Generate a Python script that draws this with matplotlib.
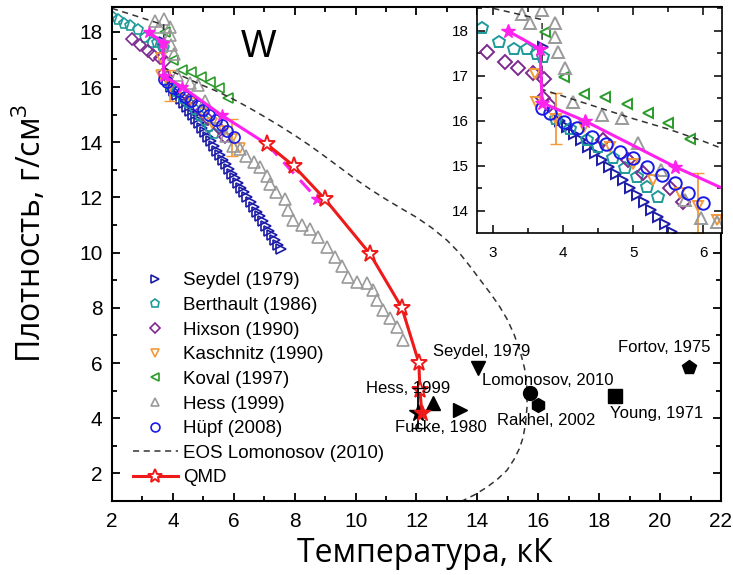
import numpy as np
import matplotlib.pyplot as plt
from matplotlib.ticker import MultipleLocator

plt.rcParams['font.family'] = ['Liberation Sans', 'DejaVu Sans']
plt.rcParams['mathtext.fontset'] = 'custom'
plt.rcParams['mathtext.rm'] = 'Open Sans'

# experimental data, T in kK, density in g/cm3
seydel_x = [3.71, 3.95, 4.05, 4.15, 4.25, 4.35, 4.45, 4.55, 4.65, 4.75, 4.85, 4.95, 5.05, 5.15,
            5.25, 5.35, 5.45, 5.55, 5.65, 5.75, 5.85, 5.95, 6.05, 6.15, 6.25, 6.35, 6.45,
            6.55, 6.65, 6.75, 6.85, 6.95, 7.05, 7.15, 7.25, 7.35, 7.45, 7.55]
seydel_y = [17.64, 16.0, 15.86, 15.72, 15.57, 15.43, 15.28, 15.13, 14.98, 14.83, 14.68, 14.52,
            14.36, 14.2, 14.03, 13.87, 13.7, 13.54, 13.37, 13.2, 13.03, 12.86, 12.69, 12.52,
            12.35, 12.18, 12.0, 11.83, 11.66, 11.49, 11.32, 11.15, 10.98, 10.8, 10.63, 10.46,
            10.29, 10.12]

berth_x = [2.0, 2.2, 2.4, 2.6, 2.84, 3.09, 3.3, 3.48, 3.63, 3.71, 3.9, 4.1, 4.34, 4.5, 4.72,
           4.89, 5.06, 5.2, 5.36]
berth_y = [18.55, 18.42, 18.3, 18.2, 18.07, 17.76, 17.6, 17.6, 17.48, 17.43, 16.05, 15.82,
           15.58, 15.42, 15.17, 14.95, 14.76, 14.54, 14.31]

hix_x = [2.65, 2.91, 3.17, 3.36, 3.57, 3.73, 3.71, 3.8, 4.57, 4.93, 5.14, 5.53, 5.72]
hix_y = [17.75, 17.53, 17.31, 17.17, 17.07, 16.93, 16.5, 16.35, 15.58, 15.13, 14.84, 14.5, 14.2]

kasch_x = [3.6, 3.62, 3.9, 4.3, 4.67, 5.0, 5.29, 5.67, 5.93, 6.2]
kasch_y = [17.05, 16.42, 16.05, 15.87, 15.42, 15.05, 14.69, 14.4, 14.1, 13.8]
kasch_err_x = [3.9, 5.93]
kasch_err_y = [16.05, 14.1]
kasch_err_lo = [0.57, 0.59]
kasch_err_hi = [0.57, 0.74]

koval_x = [3.74, 4.01, 4.3, 4.6, 4.91, 5.21, 5.5, 5.81]
koval_y = [17.98, 16.98, 16.6, 16.53, 16.38, 16.18, 15.96, 15.6]

hess_x = [3.41, 3.53, 3.7, 3.89, 3.89, 3.93, 4.03, 4.14, 4.56, 4.84, 5.07, 5.4, 5.74, 5.97,
          6.2, 6.4, 6.65, 6.86, 7.09, 7.2, 7.4, 7.68, 7.78, 7.94, 8.24, 8.5, 8.77, 9.06, 9.32,
          9.55, 9.75, 10.05, 10.37, 10.57, 10.7, 10.9, 11.13, 11.36, 11.56]
hess_y = [18.38, 18.18, 18.47, 18.18, 17.87, 17.53, 17.18, 16.42, 16.13, 16.07, 15.51, 14.9,
          14.24, 13.85, 13.75, 13.5, 13.3, 13.1, 12.77, 12.5, 12.2, 11.93, 11.56, 11.2, 11.0,
          10.84, 10.55, 10.2, 9.85, 9.5, 9.13, 8.95, 8.9, 8.65, 8.3, 7.93, 7.64, 7.3, 6.84]

hupf_x = [3.7, 3.81, 4.01, 4.2, 4.41, 4.61, 4.81, 5.0, 5.2, 5.41, 5.6, 5.79, 6.0]
hupf_y = [16.29, 16.18, 15.98, 15.84, 15.64, 15.49, 15.31, 15.18, 14.98, 14.8, 14.62, 14.4, 14.18]

eos_x = [2.0, 3.0, 3.7, 3.7, 4.5, 5.0, 5.5, 6.0, 6.5, 7.0, 7.5, 8.0, 8.5, 9.0, 9.5, 10.0,
         10.5, 11.0, 11.5, 12.0, 12.5, 13.0, 13.4, 13.76, 14.1, 14.41, 14.7, 14.97, 15.2,
         15.4, 15.55, 15.63, 15.63, 15.58, 15.5, 15.38, 15.2, 14.97, 14.65, 14.3, 13.9, 13.5,
         13.2]
eos_y = [18.85, 18.5, 18.25, 16.7, 16.3, 16.05, 15.82, 15.55, 15.25, 14.93, 14.6, 14.25, 13.88,
         13.48, 13.07, 12.66, 12.28, 11.93, 11.6, 11.28, 10.9, 10.45, 10.0, 9.5, 9.0, 8.55,
         8.1, 7.6, 7.05, 6.45, 5.8, 5.1, 4.4, 3.8, 3.3, 2.9, 2.5, 2.11, 1.78, 1.49, 1.22, 1.0,
         0.85]

qmd_x = [7.09, 7.98, 9.0, 10.47, 11.52, 12.08, 12.11]
qmd_y = [13.93, 13.13, 11.93, 9.96, 8.0, 6.0, 5.02]
qmd_cp_x = 12.18
qmd_cp_y = 4.18

mag_x = [3.21, 3.67, 3.7, 4.31, 5.6, 7.09]
mag_y = [18.0, 17.6, 16.4, 16.0, 14.98, 13.93]
mag_dash_x = [7.09, 8.73]
mag_dash_y = [13.93, 11.96]

# critical point estimates
cp_labels = ['Hess, 1999', 'Fucke, 1980', '', 'Seydel, 1979', 'Lomonosov, 2010',
             'Rakhel, 2002', 'Young, 1971', 'Fortov, 1975']
cp_x = [12.54, 12.05, 13.43, 14.02, 15.73, 15.99, 18.52, 20.95]
cp_y = [4.55, 4.18, 4.29, 5.82, 4.9, 4.47, 4.8, 5.85]
cp_markers = ['^', '*', '>', 'v', 'o', 'h', 's', 'p']
label_x = [10.34, 11.29, None, 12.54, 14.15, 14.64, 18.35, 18.62]
label_y = [5.09, 3.67, None, 6.4, 5.38, 3.93, 4.18, 6.55]

c_seydel = '#1c1ca6'
c_berth = '#1f9a9a'
c_hix = '#7d2a90'
c_kasch = '#f29a3a'
c_koval = '#2b9b2b'
c_hess = '#9a9a9a'
c_hupf = '#1a1ae6'
c_qmd = '#ee1a1a'
c_mag = '#ff22ee'


def draw(ax, ms, mew):
    h = []
    h.append(ax.plot(seydel_x, seydel_y, '>', ms=ms * 0.85, mfc='none', mec=c_seydel, mew=mew,
                     ls='none', label='Seydel (1979)')[0])
    h.append(ax.plot(berth_x, berth_y, 'p', ms=ms, mfc='none', mec=c_berth, mew=mew,
                     ls='none', label='Berthault (1986)')[0])
    h.append(ax.plot(hix_x, hix_y, 'D', ms=ms * 0.8, mfc='none', mec=c_hix, mew=mew,
                     ls='none', label='Hixson (1990)')[0])
    ax.errorbar(kasch_err_x, kasch_err_y, yerr=[kasch_err_lo, kasch_err_hi], fmt='none',
                ecolor=c_kasch, elinewidth=1.3, capsize=ms * 0.5)
    h.append(ax.plot(kasch_x, kasch_y, 'v', ms=ms * 0.85, mfc='none', mec=c_kasch, mew=mew,
                     ls='none', label='Kaschnitz (1990)')[0])
    h.append(ax.plot(koval_x, koval_y, '<', ms=ms * 0.85, mfc='none', mec=c_koval, mew=mew,
                     ls='none', label='Koval (1997)')[0])
    h.append(ax.plot(hess_x, hess_y, '^', ms=ms, mfc='none', mec=c_hess, mew=mew,
                     ls='none', label='Hess (1999)')[0])
    h.append(ax.plot(hupf_x, hupf_y, 'o', ms=ms, mfc='none', mec=c_hupf, mew=mew,
                     ls='none', label='Hüpf (2008)')[0])
    h.append(ax.plot(eos_x, eos_y, '--', color='#333333', lw=1.1, dashes=(4, 3),
                     label='EOS Lomonosov (2010)')[0])
    ax.plot(mag_x, mag_y, '-', color=c_mag, lw=2.2, marker='*', ms=ms * 1.1, mec=c_mag)
    ax.plot(mag_dash_x, mag_dash_y, '--', color=c_mag, lw=2.2, marker='*', ms=ms * 1.1,
            mec=c_mag, dashes=(5, 3), markevery=[1])
    h.append(ax.plot(qmd_x + [qmd_cp_x], qmd_y + [qmd_cp_y], '-', color=c_qmd, lw=2.2,
                     marker='*', ms=ms * 1.6, mfc='white', mec=c_qmd, mew=1.4,
                     markevery=list(range(len(qmd_x))), label='QMD')[0])
    return h


fig = plt.figure(figsize=(7.33, 5.75), dpi=100)
ax = fig.add_axes([0.1528, 0.1287, 0.8308, 0.8591])
handles = draw(ax, 8, 1.2)

for i in range(len(cp_x)):
    ax.plot(cp_x[i], cp_y[i], cp_markers[i], color='black', ms=13 if cp_markers[i] == '*' else 10,
            zorder=4)
ax.errorbar([cp_x[1]], [cp_y[1]], yerr=[[0.55], [0.9]], fmt='none', ecolor='black',
            elinewidth=1.3, capsize=4, zorder=4)
ax.plot(qmd_cp_x, qmd_cp_y, '*', color=c_qmd, ms=12, mec=c_qmd, zorder=5)
for i in range(len(cp_labels)):
    if cp_labels[i]:
        ax.text(label_x[i], label_y[i], cp_labels[i], fontsize=12, ha='left', va='center',
                zorder=6)

ax.text(6.8, 17.45, 'W', fontsize=27, ha='center', va='center')

ax.set_xlim(2, 22)
ax.set_ylim(1, 18.9)
ax.xaxis.set_major_locator(MultipleLocator(2))
ax.xaxis.set_minor_locator(MultipleLocator(1))
ax.yaxis.set_major_locator(MultipleLocator(2))
ax.yaxis.set_minor_locator(MultipleLocator(1))
ax.tick_params(which='both', direction='in', top=True, right=True, width=1.3)
ax.tick_params(which='major', length=6, labelsize=15)
ax.tick_params(which='minor', length=3.5)
ax.tick_params(axis='x', pad=8)
ax.tick_params(axis='y', pad=7)
for s in ax.spines.values():
    s.set_linewidth(1.5)

ax.legend(handles=handles, loc='lower left', bbox_to_anchor=(0.028, 0.022), frameon=False,
          fontsize=13.5, markerscale=0.8, handlelength=2.4, handletextpad=0.27,
          labelspacing=0.4, borderpad=0.2, borderaxespad=0)

fig.text(425 / 733, 1 - 553 / 575, 'Температура, кК', fontsize=23, family='Open Sans',
         ha='center', va='center')
fig.text(30 / 733, 1 - 233 / 575, 'Плотность, г/см$^3$', fontsize=23, family='Open Sans',
         ha='center', va='center', rotation=90)

# inset
axi = fig.add_axes([0.65075, 0.59478, 0.33424, 0.39304])
axi.set_facecolor('white')
draw(axi, 9, 1.4)
axi.set_xlim(2.77, 6.27)
axi.set_ylim(13.51, 18.53)
axi.xaxis.set_major_locator(MultipleLocator(1))
axi.xaxis.set_minor_locator(MultipleLocator(0.5))
axi.yaxis.set_major_locator(MultipleLocator(1))
axi.yaxis.set_minor_locator(MultipleLocator(0.5))
axi.tick_params(which='both', direction='in', top=True, right=True, width=1.1)
axi.tick_params(which='major', length=6, labelsize=11)
axi.tick_params(which='minor', length=3.5)
axi.tick_params(axis='x', pad=9)
axi.tick_params(axis='y', pad=6)
for s in axi.spines.values():
    s.set_linewidth(1.2)

fig.savefig('out.png', dpi=100)
